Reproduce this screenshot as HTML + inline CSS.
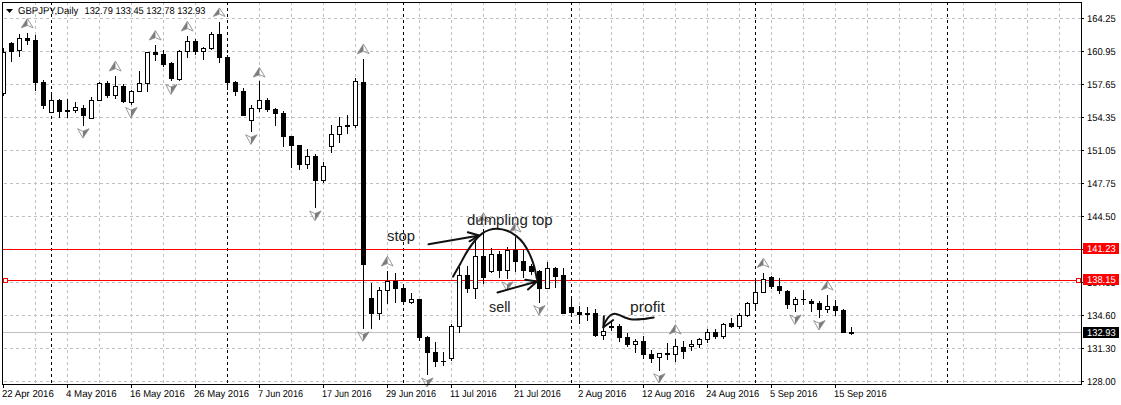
<!DOCTYPE html><html><head><meta charset="utf-8"><style>html,body{margin:0;padding:0;background:#fff;overflow:hidden}svg{display:block}text{font-family:"Liberation Sans", sans-serif}</style></head><body>
<svg width="1121" height="405" viewBox="0 0 1121 405">
<defs><clipPath id="cp"><rect x="3" y="3" width="1078" height="381"/></clipPath></defs>
<g shape-rendering="crispEdges" clip-path="url(#cp)">
<g stroke="#c0c0c0" stroke-width="1" stroke-dasharray="3 3" fill="none">
<line x1="35.5" y1="2" x2="35.5" y2="384"/>
<line x1="67.5" y1="2" x2="67.5" y2="384"/>
<line x1="99.5" y1="2" x2="99.5" y2="384"/>
<line x1="131.5" y1="2" x2="131.5" y2="384"/>
<line x1="163.5" y1="2" x2="163.5" y2="384"/>
<line x1="195.5" y1="2" x2="195.5" y2="384"/>
<line x1="227.5" y1="2" x2="227.5" y2="384"/>
<line x1="259.5" y1="2" x2="259.5" y2="384"/>
<line x1="291.5" y1="2" x2="291.5" y2="384"/>
<line x1="323.5" y1="2" x2="323.5" y2="384"/>
<line x1="355.5" y1="2" x2="355.5" y2="384"/>
<line x1="387.5" y1="2" x2="387.5" y2="384"/>
<line x1="419.5" y1="2" x2="419.5" y2="384"/>
<line x1="451.5" y1="2" x2="451.5" y2="384"/>
<line x1="483.5" y1="2" x2="483.5" y2="384"/>
<line x1="515.5" y1="2" x2="515.5" y2="384"/>
<line x1="547.5" y1="2" x2="547.5" y2="384"/>
<line x1="579.5" y1="2" x2="579.5" y2="384"/>
<line x1="611.5" y1="2" x2="611.5" y2="384"/>
<line x1="643.5" y1="2" x2="643.5" y2="384"/>
<line x1="675.5" y1="2" x2="675.5" y2="384"/>
<line x1="707.5" y1="2" x2="707.5" y2="384"/>
<line x1="739.5" y1="2" x2="739.5" y2="384"/>
<line x1="771.5" y1="2" x2="771.5" y2="384"/>
<line x1="803.5" y1="2" x2="803.5" y2="384"/>
<line x1="835.5" y1="2" x2="835.5" y2="384"/>
<line x1="867.5" y1="2" x2="867.5" y2="384"/>
<line x1="899.5" y1="2" x2="899.5" y2="384"/>
<line x1="931.5" y1="2" x2="931.5" y2="384"/>
<line x1="963.5" y1="2" x2="963.5" y2="384"/>
<line x1="995.5" y1="2" x2="995.5" y2="384"/>
<line x1="1027.5" y1="2" x2="1027.5" y2="384"/>
<line x1="1059.5" y1="2" x2="1059.5" y2="384"/>
<line x1="4" y1="18.5" x2="1081" y2="18.5"/>
<line x1="4" y1="51.5" x2="1081" y2="51.5"/>
<line x1="4" y1="84.5" x2="1081" y2="84.5"/>
<line x1="4" y1="117.5" x2="1081" y2="117.5"/>
<line x1="4" y1="150.5" x2="1081" y2="150.5"/>
<line x1="4" y1="183.5" x2="1081" y2="183.5"/>
<line x1="4" y1="216.5" x2="1081" y2="216.5"/>
<line x1="4" y1="249.5" x2="1081" y2="249.5"/>
<line x1="4" y1="282.5" x2="1081" y2="282.5"/>
<line x1="4" y1="315.5" x2="1081" y2="315.5"/>
<line x1="4" y1="348.5" x2="1081" y2="348.5"/>
<line x1="4" y1="381.5" x2="1081" y2="381.5"/>
</g>
<g stroke="#000" stroke-width="1" stroke-dasharray="3 3" fill="none">
<line x1="51.5" y1="2" x2="51.5" y2="384"/>
<line x1="227.5" y1="2" x2="227.5" y2="384"/>
<line x1="403.5" y1="2" x2="403.5" y2="384"/>
<line x1="571.5" y1="2" x2="571.5" y2="384"/>
<line x1="755.5" y1="2" x2="755.5" y2="384"/>
<line x1="947.5" y1="2" x2="947.5" y2="384"/>
</g>
<rect x="3" y="332" width="1078" height="1" fill="#c0c0c0"/>
<rect x="3" y="249" width="1078" height="1" fill="#ff0000"/>
<rect x="3" y="280" width="1078" height="1" fill="#ff0000"/>
<rect x="3" y="278" width="5" height="5" fill="#ff0000"/><rect x="4" y="279" width="3" height="3" fill="#fff"/>
<rect x="1076" y="278" width="5" height="5" fill="#ff0000"/><rect x="1077" y="279" width="3" height="3" fill="#fff"/>
<rect x="3" y="48" width="1" height="48"/><rect x="1" y="52" width="5" height="42"/>
<rect x="2" y="53" width="3" height="40" fill="#fff"/>
<rect x="11" y="42" width="1" height="20"/><rect x="9" y="43" width="5" height="9"/>
<rect x="19" y="34" width="1" height="23"/><rect x="17" y="38" width="5" height="13"/>
<rect x="18" y="39" width="3" height="11" fill="#fff"/>
<rect x="27" y="33" width="1" height="12"/><rect x="25" y="38" width="5" height="3"/>
<rect x="35" y="35" width="1" height="56"/><rect x="33" y="40" width="5" height="43"/>
<rect x="43" y="80" width="1" height="29"/><rect x="41" y="82" width="5" height="24"/>
<rect x="51" y="92" width="1" height="21"/><rect x="49" y="100" width="5" height="13"/>
<rect x="50" y="101" width="3" height="11" fill="#fff"/>
<rect x="59" y="99" width="1" height="19"/><rect x="57" y="100" width="5" height="12"/>
<rect x="67" y="99" width="1" height="19"/><rect x="65" y="110" width="5" height="2"/>
<rect x="75" y="102" width="1" height="11"/><rect x="73" y="107" width="5" height="4"/>
<rect x="74" y="108" width="3" height="2" fill="#fff"/>
<rect x="83" y="105" width="1" height="21"/><rect x="81" y="108" width="5" height="8"/>
<rect x="91" y="97" width="1" height="22"/><rect x="89" y="100" width="5" height="19"/>
<rect x="90" y="101" width="3" height="17" fill="#fff"/>
<rect x="99" y="82" width="1" height="19"/><rect x="97" y="83" width="5" height="18"/>
<rect x="98" y="84" width="3" height="16" fill="#fff"/>
<rect x="107" y="81" width="1" height="17"/><rect x="105" y="83" width="5" height="13"/>
<rect x="115" y="76" width="1" height="23"/><rect x="113" y="86" width="5" height="10"/>
<rect x="114" y="87" width="3" height="8" fill="#fff"/>
<rect x="123" y="84" width="1" height="19"/><rect x="121" y="86" width="5" height="16"/>
<rect x="131" y="90" width="1" height="15"/><rect x="129" y="91" width="5" height="12"/>
<rect x="130" y="92" width="3" height="10" fill="#fff"/>
<rect x="139" y="71" width="1" height="21"/><rect x="137" y="83" width="5" height="9"/>
<rect x="138" y="84" width="3" height="7" fill="#fff"/>
<rect x="147" y="52" width="1" height="40"/><rect x="145" y="52" width="5" height="32"/>
<rect x="146" y="53" width="3" height="30" fill="#fff"/>
<rect x="155" y="45" width="1" height="16"/><rect x="153" y="52" width="5" height="3"/>
<rect x="163" y="50" width="1" height="17"/><rect x="161" y="54" width="5" height="11"/>
<rect x="171" y="62" width="1" height="19"/><rect x="169" y="63" width="5" height="16"/>
<rect x="179" y="50" width="1" height="31"/><rect x="177" y="51" width="5" height="29"/>
<rect x="178" y="52" width="3" height="27" fill="#fff"/>
<rect x="187" y="36" width="1" height="22"/><rect x="185" y="41" width="5" height="11"/>
<rect x="186" y="42" width="3" height="9" fill="#fff"/>
<rect x="195" y="39" width="1" height="16"/><rect x="193" y="41" width="5" height="11"/>
<rect x="203" y="47" width="1" height="13"/><rect x="201" y="48" width="5" height="4"/>
<rect x="202" y="49" width="3" height="2" fill="#fff"/>
<rect x="211" y="32" width="1" height="18"/><rect x="209" y="34" width="5" height="15"/>
<rect x="210" y="35" width="3" height="13" fill="#fff"/>
<rect x="219" y="22" width="1" height="41"/><rect x="217" y="34" width="5" height="24"/>
<rect x="227" y="55" width="1" height="35"/><rect x="225" y="57" width="5" height="26"/>
<rect x="235" y="81" width="1" height="15"/><rect x="233" y="82" width="5" height="10"/>
<rect x="243" y="88" width="1" height="28"/><rect x="241" y="91" width="5" height="25"/>
<rect x="251" y="105" width="1" height="27"/><rect x="249" y="108" width="5" height="13"/>
<rect x="250" y="109" width="3" height="11" fill="#fff"/>
<rect x="259" y="81" width="1" height="31"/><rect x="257" y="100" width="5" height="9"/>
<rect x="258" y="101" width="3" height="7" fill="#fff"/>
<rect x="267" y="98" width="1" height="14"/><rect x="265" y="100" width="5" height="10"/>
<rect x="275" y="108" width="1" height="18"/><rect x="273" y="109" width="5" height="5"/>
<rect x="283" y="111" width="1" height="36"/><rect x="281" y="113" width="5" height="24"/>
<rect x="291" y="136" width="1" height="32"/><rect x="289" y="136" width="5" height="10"/>
<rect x="299" y="145" width="1" height="25"/><rect x="297" y="145" width="5" height="20"/>
<rect x="307" y="149" width="1" height="20"/><rect x="305" y="156" width="5" height="9"/>
<rect x="306" y="157" width="3" height="7" fill="#fff"/>
<rect x="315" y="154" width="1" height="54"/><rect x="313" y="156" width="5" height="25"/>
<rect x="323" y="162" width="1" height="21"/><rect x="321" y="166" width="5" height="15"/>
<rect x="322" y="167" width="3" height="13" fill="#fff"/>
<rect x="331" y="125" width="1" height="28"/><rect x="329" y="134" width="5" height="13"/>
<rect x="330" y="135" width="3" height="11" fill="#fff"/>
<rect x="339" y="117" width="1" height="26"/><rect x="337" y="126" width="5" height="9"/>
<rect x="338" y="127" width="3" height="7" fill="#fff"/>
<rect x="347" y="115" width="1" height="19"/><rect x="345" y="125" width="5" height="2"/>
<rect x="355" y="78" width="1" height="50"/><rect x="353" y="81" width="5" height="45"/>
<rect x="354" y="82" width="3" height="43" fill="#fff"/>
<rect x="363" y="59" width="1" height="270"/><rect x="361" y="82" width="5" height="183"/>
<rect x="371" y="283" width="1" height="46"/><rect x="369" y="298" width="5" height="16"/>
<rect x="379" y="287" width="1" height="33"/><rect x="377" y="290" width="5" height="24"/>
<rect x="378" y="291" width="3" height="22" fill="#fff"/>
<rect x="387" y="271" width="1" height="33"/><rect x="385" y="281" width="5" height="10"/>
<rect x="386" y="282" width="3" height="8" fill="#fff"/>
<rect x="395" y="273" width="1" height="30"/><rect x="393" y="281" width="5" height="8"/>
<rect x="403" y="284" width="1" height="20"/><rect x="401" y="288" width="5" height="14"/>
<rect x="411" y="293" width="1" height="11"/><rect x="409" y="299" width="5" height="4"/>
<rect x="410" y="300" width="3" height="2" fill="#fff"/>
<rect x="419" y="299" width="1" height="42"/><rect x="417" y="299" width="5" height="39"/>
<rect x="427" y="336" width="1" height="39"/><rect x="425" y="337" width="5" height="16"/>
<rect x="435" y="342" width="1" height="25"/><rect x="433" y="352" width="5" height="10"/>
<rect x="443" y="352" width="1" height="14"/><rect x="441" y="361" width="5" height="1"/>
<rect x="451" y="324" width="1" height="37"/><rect x="449" y="326" width="5" height="33"/>
<rect x="450" y="327" width="3" height="31" fill="#fff"/>
<rect x="459" y="267" width="1" height="66"/><rect x="457" y="275" width="5" height="52"/>
<rect x="458" y="276" width="3" height="50" fill="#fff"/>
<rect x="467" y="266" width="1" height="27"/><rect x="465" y="275" width="5" height="14"/>
<rect x="475" y="241" width="1" height="58"/><rect x="473" y="256" width="5" height="33"/>
<rect x="474" y="257" width="3" height="31" fill="#fff"/>
<rect x="483" y="229" width="1" height="55"/><rect x="481" y="256" width="5" height="22"/>
<rect x="491" y="248" width="1" height="25"/><rect x="489" y="254" width="5" height="18"/>
<rect x="490" y="255" width="3" height="16" fill="#fff"/>
<rect x="499" y="251" width="1" height="27"/><rect x="497" y="254" width="5" height="17"/>
<rect x="507" y="247" width="1" height="32"/><rect x="505" y="250" width="5" height="21"/>
<rect x="506" y="251" width="3" height="19" fill="#fff"/>
<rect x="515" y="237" width="1" height="35"/><rect x="513" y="250" width="5" height="12"/>
<rect x="523" y="250" width="1" height="28"/><rect x="521" y="261" width="5" height="10"/>
<rect x="531" y="264" width="1" height="11"/><rect x="529" y="266" width="5" height="6"/>
<rect x="539" y="270" width="1" height="33"/><rect x="537" y="271" width="5" height="18"/>
<rect x="547" y="262" width="1" height="27"/><rect x="545" y="268" width="5" height="21"/>
<rect x="546" y="269" width="3" height="19" fill="#fff"/>
<rect x="555" y="267" width="1" height="21"/><rect x="553" y="268" width="5" height="9"/>
<rect x="563" y="268" width="1" height="46"/><rect x="561" y="275" width="5" height="39"/>
<rect x="571" y="296" width="1" height="21"/><rect x="569" y="307" width="5" height="6"/>
<rect x="579" y="306" width="1" height="18"/><rect x="577" y="312" width="5" height="3"/>
<rect x="587" y="307" width="1" height="14"/><rect x="585" y="313" width="5" height="2"/>
<rect x="595" y="309" width="1" height="28"/><rect x="593" y="313" width="5" height="23"/>
<rect x="603" y="321" width="1" height="19"/><rect x="601" y="331" width="5" height="5"/>
<rect x="602" y="332" width="3" height="3" fill="#fff"/>
<rect x="611" y="321" width="1" height="10"/><rect x="609" y="326" width="5" height="2"/>
<rect x="619" y="324" width="1" height="18"/><rect x="617" y="326" width="5" height="12"/>
<rect x="627" y="333" width="1" height="14"/><rect x="625" y="337" width="5" height="8"/>
<rect x="635" y="339" width="1" height="14"/><rect x="633" y="341" width="5" height="4"/>
<rect x="634" y="342" width="3" height="2" fill="#fff"/>
<rect x="643" y="336" width="1" height="23"/><rect x="641" y="341" width="5" height="14"/>
<rect x="651" y="350" width="1" height="13"/><rect x="649" y="354" width="5" height="5"/>
<rect x="659" y="353" width="1" height="18"/><rect x="657" y="353" width="5" height="5"/>
<rect x="658" y="354" width="3" height="3" fill="#fff"/>
<rect x="667" y="343" width="1" height="17"/><rect x="665" y="353" width="5" height="2"/>
<rect x="675" y="339" width="1" height="23"/><rect x="673" y="346" width="5" height="9"/>
<rect x="674" y="347" width="3" height="7" fill="#fff"/>
<rect x="683" y="341" width="1" height="18"/><rect x="681" y="347" width="5" height="5"/>
<rect x="691" y="340" width="1" height="11"/><rect x="689" y="344" width="5" height="3"/>
<rect x="690" y="345" width="3" height="1" fill="#fff"/>
<rect x="699" y="338" width="1" height="10"/><rect x="697" y="339" width="5" height="6"/>
<rect x="698" y="340" width="3" height="4" fill="#fff"/>
<rect x="707" y="329" width="1" height="14"/><rect x="705" y="332" width="5" height="8"/>
<rect x="706" y="333" width="3" height="6" fill="#fff"/>
<rect x="715" y="329" width="1" height="10"/><rect x="713" y="332" width="5" height="5"/>
<rect x="723" y="323" width="1" height="16"/><rect x="721" y="324" width="5" height="13"/>
<rect x="722" y="325" width="3" height="11" fill="#fff"/>
<rect x="731" y="318" width="1" height="10"/><rect x="729" y="323" width="5" height="4"/>
<rect x="739" y="313" width="1" height="16"/><rect x="737" y="315" width="5" height="12"/>
<rect x="738" y="316" width="3" height="10" fill="#fff"/>
<rect x="747" y="302" width="1" height="15"/><rect x="745" y="303" width="5" height="13"/>
<rect x="746" y="304" width="3" height="11" fill="#fff"/>
<rect x="755" y="278" width="1" height="33"/><rect x="753" y="292" width="5" height="12"/>
<rect x="754" y="293" width="3" height="10" fill="#fff"/>
<rect x="763" y="273" width="1" height="20"/><rect x="761" y="279" width="5" height="14"/>
<rect x="762" y="280" width="3" height="12" fill="#fff"/>
<rect x="771" y="276" width="1" height="13"/><rect x="769" y="277" width="5" height="10"/>
<rect x="779" y="278" width="1" height="16"/><rect x="777" y="286" width="5" height="5"/>
<rect x="787" y="290" width="1" height="19"/><rect x="785" y="291" width="5" height="14"/>
<rect x="795" y="297" width="1" height="15"/><rect x="793" y="299" width="5" height="6"/>
<rect x="794" y="300" width="3" height="4" fill="#fff"/>
<rect x="803" y="290" width="1" height="15"/><rect x="801" y="299" width="5" height="1"/>
<rect x="811" y="299" width="1" height="13"/><rect x="809" y="301" width="5" height="3"/>
<rect x="819" y="301" width="1" height="17"/><rect x="817" y="303" width="5" height="7"/>
<rect x="827" y="295" width="1" height="18"/><rect x="825" y="306" width="5" height="4"/>
<rect x="826" y="307" width="3" height="2" fill="#fff"/>
<rect x="835" y="300" width="1" height="16"/><rect x="833" y="306" width="5" height="5"/>
<rect x="843" y="309" width="1" height="24"/><rect x="841" y="310" width="5" height="23"/>
<rect x="851" y="327" width="1" height="8"/><rect x="849" y="332" width="5" height="2"/>
</g>
<path d="M21.30,27.8 L27.40,18.5 L27.45,25.40 Z" fill="#7a7a7a" stroke="none"/>
<path d="M21.30,27.8 L27.40,18.5 L33.10,27.8 L27.45,25.40 Z" fill="none" stroke="#8c8c8c" stroke-width="0.9" stroke-linejoin="miter"/>
<path d="M109.30,71 L115.40,61 L115.45,68.60 Z" fill="#7a7a7a" stroke="none"/>
<path d="M109.30,71 L115.40,61 L121.10,71 L115.45,68.60 Z" fill="none" stroke="#8c8c8c" stroke-width="0.9" stroke-linejoin="miter"/>
<path d="M149.30,40 L155.40,30.6 L155.45,37.60 Z" fill="#7a7a7a" stroke="none"/>
<path d="M149.30,40 L155.40,30.6 L161.10,40 L155.45,37.60 Z" fill="none" stroke="#8c8c8c" stroke-width="0.9" stroke-linejoin="miter"/>
<path d="M181.30,31 L187.40,21.25 L187.45,28.60 Z" fill="#7a7a7a" stroke="none"/>
<path d="M181.30,31 L187.40,21.25 L193.10,31 L187.45,28.60 Z" fill="none" stroke="#8c8c8c" stroke-width="0.9" stroke-linejoin="miter"/>
<path d="M213.30,16.45 L219.40,7.9 L219.45,14.05 Z" fill="#7a7a7a" stroke="none"/>
<path d="M213.30,16.45 L219.40,7.9 L225.10,16.45 L219.45,14.05 Z" fill="none" stroke="#8c8c8c" stroke-width="0.9" stroke-linejoin="miter"/>
<path d="M253.30,77.1 L259.40,67.5 L259.45,74.70 Z" fill="#7a7a7a" stroke="none"/>
<path d="M253.30,77.1 L259.40,67.5 L265.10,77.1 L259.45,74.70 Z" fill="none" stroke="#8c8c8c" stroke-width="0.9" stroke-linejoin="miter"/>
<path d="M357.30,53.75 L363.40,44 L363.45,51.35 Z" fill="#7a7a7a" stroke="none"/>
<path d="M357.30,53.75 L363.40,44 L369.10,53.75 L363.45,51.35 Z" fill="none" stroke="#8c8c8c" stroke-width="0.9" stroke-linejoin="miter"/>
<path d="M381.30,266 L387.40,256.25 L387.45,263.60 Z" fill="#7a7a7a" stroke="none"/>
<path d="M381.30,266 L387.40,256.25 L393.10,266 L387.45,263.60 Z" fill="none" stroke="#8c8c8c" stroke-width="0.9" stroke-linejoin="miter"/>
<path d="M477.30,222 L483.40,213 L483.45,219.60 Z" fill="#7a7a7a" stroke="none"/>
<path d="M477.30,222 L483.40,213 L489.10,222 L483.45,219.60 Z" fill="none" stroke="#8c8c8c" stroke-width="0.9" stroke-linejoin="miter"/>
<path d="M509.30,232 L515.40,222.7 L515.45,229.60 Z" fill="#7a7a7a" stroke="none"/>
<path d="M509.30,232 L515.40,222.7 L521.10,232 L515.45,229.60 Z" fill="none" stroke="#8c8c8c" stroke-width="0.9" stroke-linejoin="miter"/>
<path d="M669.30,334 L675.40,324.5 L675.45,331.60 Z" fill="#7a7a7a" stroke="none"/>
<path d="M669.30,334 L675.40,324.5 L681.10,334 L675.45,331.60 Z" fill="none" stroke="#8c8c8c" stroke-width="0.9" stroke-linejoin="miter"/>
<path d="M757.30,267.3 L763.40,258.2 L763.45,264.90 Z" fill="#7a7a7a" stroke="none"/>
<path d="M757.30,267.3 L763.40,258.2 L769.10,267.3 L763.45,264.90 Z" fill="none" stroke="#8c8c8c" stroke-width="0.9" stroke-linejoin="miter"/>
<path d="M821.30,290 L827.40,281 L827.45,287.60 Z" fill="#7a7a7a" stroke="none"/>
<path d="M821.30,290 L827.40,281 L833.10,290 L827.45,287.60 Z" fill="none" stroke="#8c8c8c" stroke-width="0.9" stroke-linejoin="miter"/>
<path d="M89.10,128.75 L82.90,138.1 L82.90,131.35 Z" fill="#7a7a7a" stroke="none"/>
<path d="M77.70,128.75 L82.90,131.35 L89.10,128.75 L82.90,138.1 Z" fill="none" stroke="#8c8c8c" stroke-width="0.9" stroke-linejoin="miter"/>
<path d="M137.10,107.5 L130.90,118.1 L130.90,110.10 Z" fill="#7a7a7a" stroke="none"/>
<path d="M125.70,107.5 L130.90,110.10 L137.10,107.5 L130.90,118.1 Z" fill="none" stroke="#8c8c8c" stroke-width="0.9" stroke-linejoin="miter"/>
<path d="M177.10,84.4 L170.90,94.4 L170.90,87.00 Z" fill="#7a7a7a" stroke="none"/>
<path d="M165.70,84.4 L170.90,87.00 L177.10,84.4 L170.90,94.4 Z" fill="none" stroke="#8c8c8c" stroke-width="0.9" stroke-linejoin="miter"/>
<path d="M257.10,134.75 L250.90,144.4 L250.90,137.35 Z" fill="#7a7a7a" stroke="none"/>
<path d="M245.70,134.75 L250.90,137.35 L257.10,134.75 L250.90,144.4 Z" fill="none" stroke="#8c8c8c" stroke-width="0.9" stroke-linejoin="miter"/>
<path d="M321.10,211 L314.90,220.7 L314.90,213.60 Z" fill="#7a7a7a" stroke="none"/>
<path d="M309.70,211 L314.90,213.60 L321.10,211 L314.90,220.7 Z" fill="none" stroke="#8c8c8c" stroke-width="0.9" stroke-linejoin="miter"/>
<path d="M369.10,331.9 L362.90,341.25 L362.90,334.50 Z" fill="#7a7a7a" stroke="none"/>
<path d="M357.70,331.9 L362.90,334.50 L369.10,331.9 L362.90,341.25 Z" fill="none" stroke="#8c8c8c" stroke-width="0.9" stroke-linejoin="miter"/>
<path d="M433.10,378 L426.90,387 L426.90,380.60 Z" fill="#7a7a7a" stroke="none"/>
<path d="M421.70,378 L426.90,380.60 L433.10,378 L426.90,387 Z" fill="none" stroke="#8c8c8c" stroke-width="0.9" stroke-linejoin="miter"/>
<path d="M513.10,281.9 L506.90,290.6 L506.90,284.50 Z" fill="#7a7a7a" stroke="none"/>
<path d="M501.70,281.9 L506.90,284.50 L513.10,281.9 L506.90,290.6 Z" fill="none" stroke="#8c8c8c" stroke-width="0.9" stroke-linejoin="miter"/>
<path d="M545.10,305.6 L538.90,315 L538.90,308.20 Z" fill="#7a7a7a" stroke="none"/>
<path d="M533.70,305.6 L538.90,308.20 L545.10,305.6 L538.90,315 Z" fill="none" stroke="#8c8c8c" stroke-width="0.9" stroke-linejoin="miter"/>
<path d="M665.10,373.75 L658.90,383 L658.90,376.35 Z" fill="#7a7a7a" stroke="none"/>
<path d="M653.70,373.75 L658.90,376.35 L665.10,373.75 L658.90,383 Z" fill="none" stroke="#8c8c8c" stroke-width="0.9" stroke-linejoin="miter"/>
<path d="M801.10,315 L794.90,324.4 L794.90,317.60 Z" fill="#7a7a7a" stroke="none"/>
<path d="M789.70,315 L794.90,317.60 L801.10,315 L794.90,324.4 Z" fill="none" stroke="#8c8c8c" stroke-width="0.9" stroke-linejoin="miter"/>
<path d="M825.10,320.6 L818.90,330 L818.90,323.20 Z" fill="#7a7a7a" stroke="none"/>
<path d="M813.70,320.6 L818.90,323.20 L825.10,320.6 L818.90,330 Z" fill="none" stroke="#8c8c8c" stroke-width="0.9" stroke-linejoin="miter"/>
<g fill="none" stroke="#111" stroke-width="2" stroke-linecap="round" stroke-linejoin="round">
<path d="M428.5,244.3 L479.3,235.5 M467.8,232.2 L479.3,235.5 L469.5,241.3"/>
<path d="M453.1,276.6 C454.22,274.62 457.45,268.90 459.8,264.7 C462.15,260.50 464.73,255.35 467.2,251.4 C469.67,247.45 472.13,243.97 474.6,241 C477.07,238.03 479.53,235.45 482,233.6 C484.47,231.75 486.92,230.72 489.4,229.9 C491.88,229.08 493.93,228.57 496.9,228.7 C499.87,228.83 504.00,229.50 507.2,230.7 C510.40,231.90 513.38,233.80 516.1,235.9 C518.82,238.00 521.28,240.35 523.5,243.3 C525.72,246.25 527.67,249.90 529.4,253.6 C531.13,257.30 532.65,261.27 533.9,265.5 C535.15,269.73 536.40,276.75 536.9,279"/>
<path d="M497.5,292.5 L537,281.5 M525.3,279.7 L537,281.5 L528,289.5"/>
<path d="M653.7,317.4 C651.92,317.68 646.57,318.75 643,319.1 C639.43,319.45 635.42,319.80 632.3,319.5 C629.18,319.20 626.88,318.20 624.3,317.3 C621.72,316.40 618.85,314.58 616.8,314.1 C614.75,313.62 613.42,313.87 612,314.4 C610.58,314.93 609.50,315.88 608.3,317.3 C607.10,318.72 605.62,321.18 604.8,322.9 C603.98,324.62 603.63,326.82 603.4,327.6"/>
<path d="M603.9,316.3 L603.4,327.3 L613.2,320"/>
</g>
<g fill="#222" font-size="14px">
<text x="387" y="241" textLength="28" lengthAdjust="spacingAndGlyphs">stop</text>
<text x="467" y="224.6" textLength="85.7" lengthAdjust="spacingAndGlyphs">dumpling top</text>
<text x="489" y="312" textLength="21.5" lengthAdjust="spacingAndGlyphs">sell</text>
<text x="630" y="312" textLength="34.9" lengthAdjust="spacingAndGlyphs">profit</text>
</g>
<g shape-rendering="crispEdges">
<rect x="2" y="2" width="1080" height="1" fill="#000"/>
<rect x="2" y="384" width="1080" height="1" fill="#000"/>
<rect x="2" y="2" width="1" height="383" fill="#000"/>
<rect x="1081" y="2" width="1" height="383" fill="#000"/>
<rect x="1082" y="18" width="2" height="1" fill="#000"/>
<rect x="1082" y="51" width="2" height="1" fill="#000"/>
<rect x="1082" y="84" width="2" height="1" fill="#000"/>
<rect x="1082" y="117" width="2" height="1" fill="#000"/>
<rect x="1082" y="150" width="2" height="1" fill="#000"/>
<rect x="1082" y="183" width="2" height="1" fill="#000"/>
<rect x="1082" y="216" width="2" height="1" fill="#000"/>
<rect x="1082" y="249" width="2" height="1" fill="#000"/>
<rect x="1082" y="282" width="2" height="1" fill="#000"/>
<rect x="1082" y="315" width="2" height="1" fill="#000"/>
<rect x="1082" y="348" width="2" height="1" fill="#000"/>
<rect x="1082" y="381" width="2" height="1" fill="#000"/>
<rect x="3" y="385" width="1" height="3" fill="#000"/>
<rect x="67" y="385" width="1" height="3" fill="#000"/>
<rect x="131" y="385" width="1" height="3" fill="#000"/>
<rect x="195" y="385" width="1" height="3" fill="#000"/>
<rect x="259" y="385" width="1" height="3" fill="#000"/>
<rect x="323" y="385" width="1" height="3" fill="#000"/>
<rect x="387" y="385" width="1" height="3" fill="#000"/>
<rect x="451" y="385" width="1" height="3" fill="#000"/>
<rect x="515" y="385" width="1" height="3" fill="#000"/>
<rect x="579" y="385" width="1" height="3" fill="#000"/>
<rect x="643" y="385" width="1" height="3" fill="#000"/>
<rect x="707" y="385" width="1" height="3" fill="#000"/>
<rect x="771" y="385" width="1" height="3" fill="#000"/>
<rect x="835" y="385" width="1" height="3" fill="#000"/>
</g>
<g fill="#000" font-size="10px" text-rendering="geometricPrecision">
<text x="1087" y="22" textLength="28.6" lengthAdjust="spacingAndGlyphs">164.25</text>
<text x="1087" y="55" textLength="28.6" lengthAdjust="spacingAndGlyphs">160.95</text>
<text x="1087" y="88" textLength="28.6" lengthAdjust="spacingAndGlyphs">157.65</text>
<text x="1087" y="121" textLength="28.6" lengthAdjust="spacingAndGlyphs">154.35</text>
<text x="1087" y="154" textLength="28.6" lengthAdjust="spacingAndGlyphs">151.05</text>
<text x="1087" y="187" textLength="28.6" lengthAdjust="spacingAndGlyphs">147.75</text>
<text x="1087" y="220" textLength="28.6" lengthAdjust="spacingAndGlyphs">144.50</text>
<text x="1087" y="253" textLength="28.6" lengthAdjust="spacingAndGlyphs">141.15</text>
<text x="1087" y="286" textLength="28.6" lengthAdjust="spacingAndGlyphs">137.85</text>
<text x="1087" y="319" textLength="28.6" lengthAdjust="spacingAndGlyphs">134.60</text>
<text x="1087" y="352" textLength="28.6" lengthAdjust="spacingAndGlyphs">131.30</text>
<text x="1087" y="385" textLength="28.6" lengthAdjust="spacingAndGlyphs">128.00</text>
</g>
<g shape-rendering="crispEdges">
<rect x="1083" y="243" width="36" height="11" fill="#ff0000"/>
<rect x="1083" y="274" width="36" height="11" fill="#ff0000"/>
<rect x="1083" y="327" width="36" height="11" fill="#000"/>
</g>
<g fill="#fff" font-size="10px" text-rendering="geometricPrecision">
<text x="1087" y="252" textLength="28.6" lengthAdjust="spacingAndGlyphs">141.23</text>
<text x="1087" y="283" textLength="28.6" lengthAdjust="spacingAndGlyphs">138.15</text>
<text x="1087" y="336" textLength="28.6" lengthAdjust="spacingAndGlyphs">132.93</text>
</g>
<g fill="#000" font-size="10px" text-rendering="geometricPrecision">
<text x="2" y="397" textLength="51.8" lengthAdjust="spacingAndGlyphs">22 Apr 2016</text>
<text x="66" y="397" textLength="50.599999999999994" lengthAdjust="spacingAndGlyphs">4 May 2016</text>
<text x="130" y="397" textLength="54.8" lengthAdjust="spacingAndGlyphs">16 May 2016</text>
<text x="194" y="397" textLength="55.05" lengthAdjust="spacingAndGlyphs">26 May 2016</text>
<text x="258" y="397" textLength="45.05" lengthAdjust="spacingAndGlyphs">7 Jun 2016</text>
<text x="322" y="397" textLength="49.55" lengthAdjust="spacingAndGlyphs">17 Jun 2016</text>
<text x="386" y="397" textLength="50.05" lengthAdjust="spacingAndGlyphs">29 Jun 2016</text>
<text x="450" y="397" textLength="46.55" lengthAdjust="spacingAndGlyphs">11 Jul 2016</text>
<text x="514" y="397" textLength="46.8" lengthAdjust="spacingAndGlyphs">21 Jul 2016</text>
<text x="578" y="397" textLength="48.3" lengthAdjust="spacingAndGlyphs">2 Aug 2016</text>
<text x="642" y="397" textLength="52.8" lengthAdjust="spacingAndGlyphs">12 Aug 2016</text>
<text x="706" y="397" textLength="53.3" lengthAdjust="spacingAndGlyphs">24 Aug 2016</text>
<text x="770" y="397" textLength="47.3" lengthAdjust="spacingAndGlyphs">5 Sep 2016</text>
<text x="834" y="397" textLength="52.55" lengthAdjust="spacingAndGlyphs">15 Sep 2016</text>
</g>
<path d="M6,9 L13,9 L9.5,13 Z" fill="#000"/>
<g fill="#000" font-size="10px" text-rendering="geometricPrecision">
<text x="18" y="14" textLength="60.3" lengthAdjust="spacingAndGlyphs">GBPJPY,Daily</text>
<text x="84.5" y="14" textLength="121" lengthAdjust="spacingAndGlyphs">132.79 133.45 132.78 132.93</text>
</g>
</svg></body></html>
